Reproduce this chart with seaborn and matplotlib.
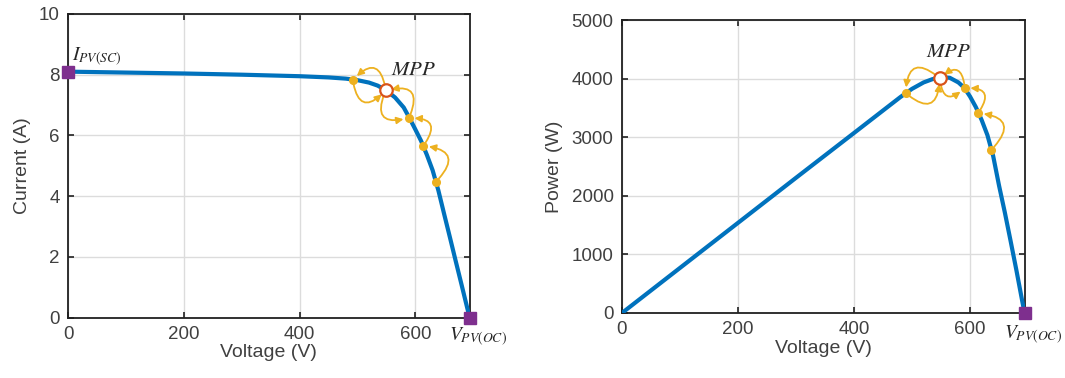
import matplotlib
matplotlib.use("Agg")
import matplotlib.pyplot as plt
import seaborn as sns
import numpy as np
import pandas as pd

# データ
voltage = [0, 100, 200, 300, 400, 450, 480, 500, 520, 535, 550, 565, 580, 590,
           600, 610, 620, 630, 640, 650, 660, 670, 680, 690, 694]
current = [8.10, 8.07, 8.04, 8.00, 7.95, 7.91, 7.87, 7.82, 7.74, 7.64, 7.48, 7.25,
           6.92, 6.57, 6.20, 5.82, 5.36, 4.85, 4.18, 3.40, 2.63, 1.85, 1.08, 0.30, 0.0]
power = [0, 770, 1540, 2310, 3076, 3460, 3690, 3830, 3940, 3995, 4030, 4020,
         3940, 3850, 3700, 3520, 3300, 3040, 2680, 2180, 1720, 1230, 730, 205, 0]

# MPPT の探索点
track_v_iv = [492, 549, 589, 614, 636]
track_i = [7.83, 7.48, 6.57, 5.66, 4.48]
track_v_pv = [489, 548, 591, 614, 637]
track_p = [3760, 4010, 3845, 3418, 2790]
mpp_idx = 1

v_oc = 694
i_sc = 8.10

xticks = [0, 200, 400, 600]
iv_yticks = [0, 2, 4, 6, 8, 10]
pv_yticks = [0, 1000, 2000, 3000, 4000, 5000]

BLUE = '#0072BD'
GOLD = '#EDB120'
RED = '#D95319'
PURPLE = '#7E2F8E'

sns.set_style("whitegrid")
plt.rcParams['font.family'] = ['Liberation Sans', 'DejaVu Sans']
plt.rcParams['mathtext.fontset'] = 'stix'

fig = plt.figure(figsize=(10.65, 3.78), dpi=100)
ax1 = fig.add_axes([0.064, 0.160, 0.377, 0.803])
ax2 = fig.add_axes([0.584, 0.172, 0.378, 0.774])

df = pd.DataFrame({'voltage': voltage, 'current': current, 'power': power})


def style_axes(ax, yticks):
    ax.set_xlim(0, v_oc)
    ax.set_ylim(yticks[0], yticks[-1])
    ax.set_xticks(xticks)
    ax.set_yticks(yticks)
    ax.grid(True, color='#dcdcdc', lw=1.0)
    for s in ax.spines.values():
        s.set_color('#202020')
        s.set_linewidth(1.3)
    ax.tick_params(direction='in', length=4, width=1.2, colors='#202020',
                   labelcolor='#404040', labelsize=13.5,
                   top=True, right=True, bottom=True, left=True, pad=6)
    ax.set_xlabel('Voltage (V)', fontsize=14, color='#404040', labelpad=1)


def draw_arrows(ax, xs, ys, rad=1.0):
    pairs = [(1, 0), (0, 1), (1, 2), (2, 1), (3, 2), (4, 3)]
    for a, b in pairs:
        ax.annotate('', xy=(xs[b], ys[b]), xytext=(xs[a], ys[a]),
                    arrowprops=dict(arrowstyle='-|>', color=GOLD, lw=1.3,
                                    mutation_scale=10, shrinkA=3, shrinkB=4,
                                    connectionstyle=f'arc3,rad={rad}'),
                    zorder=4)


# I-V 曲線
sns.lineplot(data=df, x='voltage', y='current', ax=ax1, color=BLUE, lw=3, zorder=3)
style_axes(ax1, iv_yticks)
ax1.set_ylabel('Current (A)', fontsize=14, color='#404040', labelpad=6)
draw_arrows(ax1, track_v_iv, track_i)
others = [k for k in range(len(track_v_iv)) if k != mpp_idx]
ax1.plot([track_v_iv[k] for k in others], [track_i[k] for k in others], 'o',
         color=GOLD, ms=5.5, zorder=5)
ax1.plot(track_v_iv[mpp_idx], track_i[mpp_idx], 'o', mfc='white', mec=RED,
         mew=1.6, ms=9, zorder=6)
ax1.plot([0], [i_sc], 's', color=PURPLE, ms=8, clip_on=False, zorder=6)
ax1.plot([v_oc], [0], 's', color=PURPLE, ms=8, clip_on=False, zorder=6)
ax1.annotate('$MPP$', (track_v_iv[mpp_idx], track_i[mpp_idx]), xytext=(20, 15),
             textcoords='offset points', ha='center', va='center', fontsize=15)
ax1.annotate('$I_{PV(SC)}$', (0, i_sc), xytext=(3, 11), textcoords='offset points',
             ha='left', va='center', fontsize=14)
ax1.annotate('$V_{PV(OC)}$', (v_oc, 0), xytext=(6, -14), textcoords='offset points',
             ha='center', va='center', fontsize=14, annotation_clip=False)

# P-V 曲線
sns.lineplot(data=df, x='voltage', y='power', ax=ax2, color=BLUE, lw=3, zorder=3)
style_axes(ax2, pv_yticks)
ax2.set_ylabel('Power (W)', fontsize=14, color='#404040', labelpad=6)
draw_arrows(ax2, track_v_pv, track_p)
ax2.plot([track_v_pv[k] for k in others], [track_p[k] for k in others], 'o',
         color=GOLD, ms=5.5, zorder=5)
ax2.plot(track_v_pv[mpp_idx], track_p[mpp_idx], 'o', mfc='white', mec=RED,
         mew=1.6, ms=9, zorder=6)
ax2.plot([v_oc], [0], 's', color=PURPLE, ms=8, clip_on=False, zorder=6)
ax2.annotate('$MPP$', (track_v_pv[mpp_idx], track_p[mpp_idx]), xytext=(6, 19),
             textcoords='offset points', ha='center', va='center', fontsize=15)
ax2.annotate('$V_{PV(OC)}$', (v_oc, 0), xytext=(6, -16), textcoords='offset points',
             ha='center', va='center', fontsize=14, annotation_clip=False)

fig.savefig('out.png', dpi=100)
plt.close(fig)
